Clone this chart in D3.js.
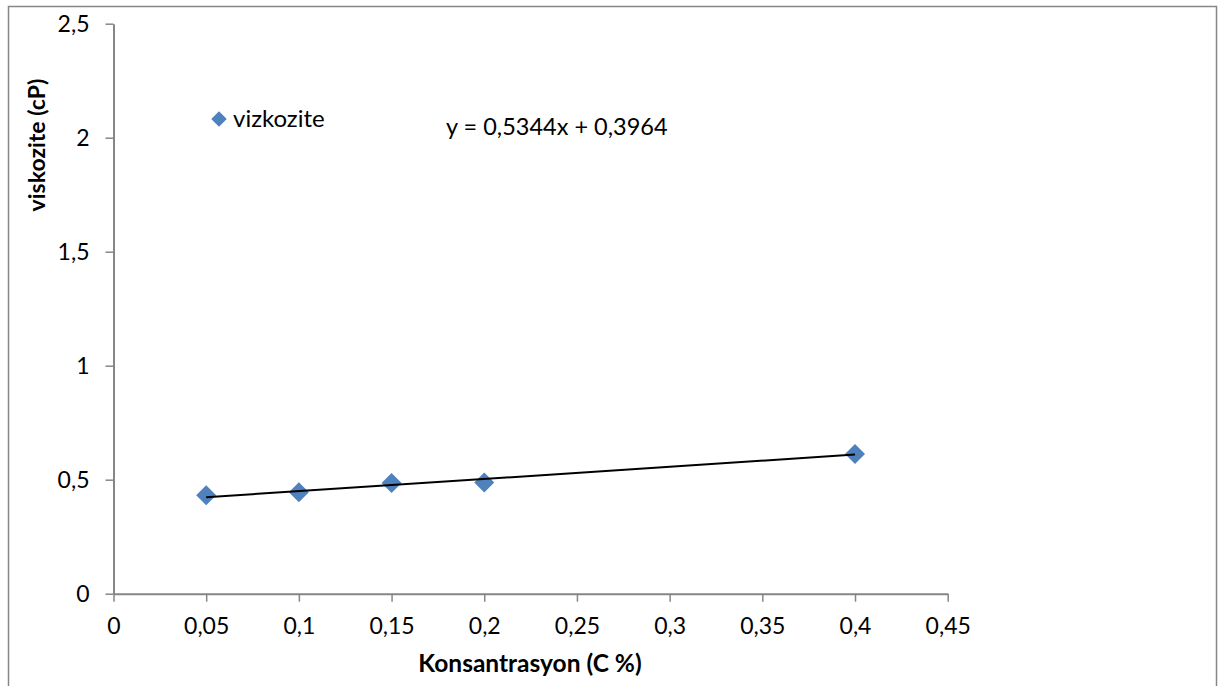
<!DOCTYPE html>
<html>
<head>
<meta charset="utf-8">
<script src="https://cdn.jsdelivr.net/npm/d3@7"></script>
<style>
  body { margin: 0; background: #fff; }
  text { font-family: Lato, "Open Sans", sans-serif; }
</style>
</head>
<body>
<script>
let w = 1224;
let h = 686;

// data
let konsantrasyon = [0.05, 0.1, 0.15, 0.2, 0.4];
let viskozite = [0.432, 0.445, 0.485, 0.488, 0.613];
let xTicks = [0, 0.05, 0.1, 0.15, 0.2, 0.25, 0.3, 0.35, 0.4, 0.45];
let yTicks = [0, 0.5, 1, 1.5, 2, 2.5];
let slope = 0.5344;
let intercept = 0.3964;

let fmt = d => String(d).replace(".", ",");

let xScale = d3.scaleLinear().domain([0, 0.45]).range([113.5, 947.7]);
let yScale = d3.scaleLinear().domain([0, 2.5]).range([593.7, 23.7]);

let svg = d3.select("body").append("svg")
  .attr("width", w)
  .attr("height", h);

// outer chart border
svg.append("rect")
  .attr("x", 8.5).attr("y", 6.5)
  .attr("width", 1208).attr("height", 700)
  .attr("fill", "none")
  .attr("stroke", "#868686")
  .attr("stroke-width", 1.5);

// axes
let xAxis = svg.append("g")
  .attr("transform", "translate(0," + yScale(0) + ")")
  .call(d3.axisBottom(xScale).tickValues(xTicks).tickFormat(fmt).tickSize(8).tickSizeOuter(0).tickPadding(16));

let yAxis = svg.append("g")
  .attr("transform", "translate(" + xScale(0) + ",0)")
  .call(d3.axisLeft(yScale).tickValues(yTicks).tickFormat(fmt).tickSize(8).tickSizeOuter(0).tickPadding(16));

[xAxis, yAxis].forEach(function(a) {
  a.select(".domain").attr("stroke", "#868686").attr("stroke-width", 2);
  a.selectAll(".tick line").attr("stroke", "#868686").attr("stroke-width", 1.5);
  a.selectAll(".tick text")
    .attr("fill", "#000")
    .attr("font-size", "23px")
    .attr("font-family", "Lato, 'Open Sans', sans-serif");
});
yAxis.selectAll(".tick text").attr("dy", "0.35em");

// points
let diamond = d3.symbol().type(d3.symbolSquare).size(200);
svg.selectAll("path.pt")
  .data(konsantrasyon)
  .enter()
  .append("path")
  .attr("class", "pt")
  .attr("d", diamond)
  .attr("transform", (d, i) => "translate(" + xScale(d) + "," + yScale(viskozite[i]) + ") rotate(45)")
  .attr("fill", "#4F81BD");

// trend line
let x0 = d3.min(konsantrasyon), x1 = d3.max(konsantrasyon);
svg.append("line")
  .attr("x1", xScale(x0)).attr("y1", yScale(slope * x0 + intercept))
  .attr("x2", xScale(x1)).attr("y2", yScale(slope * x1 + intercept))
  .attr("stroke", "#000")
  .attr("stroke-width", 2);

// legend
svg.append("path")
  .attr("d", d3.symbol().type(d3.symbolSquare).size(120))
  .attr("transform", "translate(219,119) rotate(45)")
  .attr("fill", "#4F81BD");
svg.append("text")
  .attr("x", 233).attr("y", 127)
  .attr("font-size", "24px")
  .text("vizkozite");

// equation
svg.append("text")
  .attr("x", 446).attr("y", 135)
  .attr("font-size", "23.5px")
  .text("y = " + fmt(slope) + "x + " + fmt(intercept));

// axis titles
svg.append("text")
  .attr("x", 530).attr("y", 672)
  .attr("text-anchor", "middle")
  .attr("font-size", "24.5px")
  .attr("font-weight", "bold")
  .text("Konsantrasyon (C %)");

svg.append("text")
  .attr("transform", "translate(45,145) rotate(-90)")
  .attr("text-anchor", "middle")
  .attr("font-size", "23px")
  .attr("font-weight", "bold")
  .text("viskozite (cP)");
</script>
</body>
</html>
